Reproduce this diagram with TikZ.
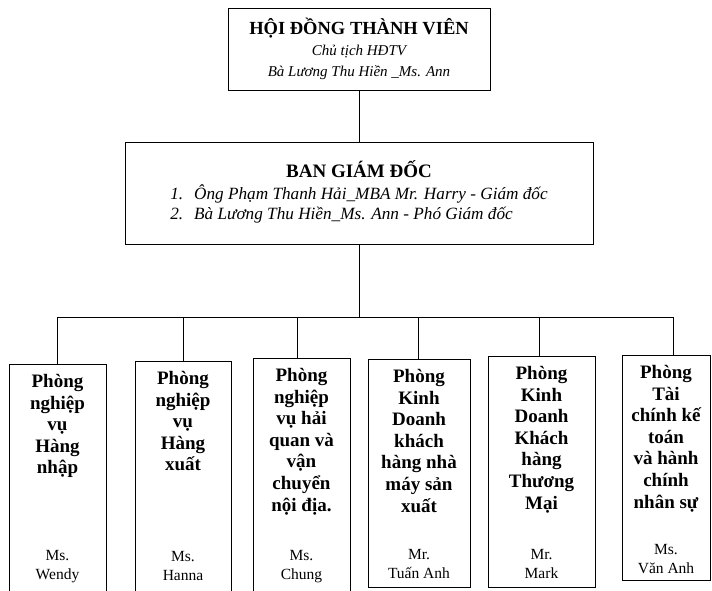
\documentclass[tikz,border=0pt]{standalone}
\usepackage{fontspec}
\setmainfont{Liberation Serif}
\usetikzlibrary{positioning}

\tikzset{
  box/.style={draw, line width=1pt, inner sep=0pt},
  dept/.style={box, minimum width=98pt, anchor=north},
  depttext/.style={align=center, inner sep=0pt, font=\fontsize{19}{21.6}\selectfont\bfseries},
  deptname/.style={align=center, inner sep=0pt, font=\fontsize{15.5}{19}\selectfont},
  link/.style={line width=0.9pt}
}

\begin{document}
\begin{tikzpicture}[x=1pt,y=-1pt]
  \useasboundingbox (0,0) rectangle (712,590);
  % board
  \node[box, minimum width=262pt, minimum height=82pt, align=center,
        font=\fontsize{15}{21}\selectfont] (hdtv) at (359,49)
    {{\fontsize{18.5}{21}\selectfont\bfseries HỘI ĐỒNG THÀNH VIÊN}\\
     {\itshape Chủ tịch HĐTV}\\
     {\itshape Bà Lương Thu Hiền \_Ms. Ann}};
  % directors
  \node[box, minimum width=468pt, minimum height=102pt,
        font=\fontsize{17.2}{19.5}\selectfont] (bgd) at (359,193)
    {\begin{tabular}{@{}l@{\hspace{11pt}}l@{}}
       \multicolumn{2}{c}{\fontsize{19}{21}\selectfont\bfseries BAN GIÁM ĐỐC}\\[1pt]
       \itshape 1. & \itshape Ông Phạm Thanh Hải\_MBA Mr. Harry - Giám đốc\\
       \itshape 2. & \itshape Bà Lương Thu Hiền\_Ms. Ann - Phó Giám đốc
     \end{tabular}};
  \draw[link] (hdtv.south) -- (bgd.north);

  % departments
  \node[dept, minimum width=97pt, minimum height=228pt] (d1) at (57.5,364) {};
  \node[dept, minimum width=96pt, minimum height=231pt] (d2) at (183,361) {};
  \node[dept, minimum width=97pt, minimum height=234pt] (d3) at (301.5,358) {};
  \node[dept, minimum width=102pt, minimum height=228pt] (d4) at (419,359) {};
  \node[dept, minimum width=107pt, minimum height=231pt] (d5) at (541.5,356) {};
  \node[dept, minimum width=88pt, minimum height=225pt] (d6) at (666,355) {};

  \node[depttext, below=10pt of d1.north] (d1t) {Phòng\\nghiệp\\vụ\\Hàng\\nhập};
  \node[depttext, below=10pt of d2.north] (d2t) {Phòng\\nghiệp\\vụ\\Hàng\\xuất};
  \node[depttext, below=10pt of d3.north] (d3t) {Phòng\\nghiệp\\vụ hải\\quan và\\vận\\chuyển\\nội địa.};
  \node[depttext, below=10pt of d4.north] (d4t) {Phòng\\Kinh\\Doanh\\khách\\hàng nhà\\máy sản\\xuất};
  \node[depttext, below=10pt of d5.north] (d5t) {Phòng\\Kinh\\Doanh\\Khách\\hàng\\Thương\\Mại};
  \node[depttext, below=10pt of d6.north] (d6t) {Phòng\\Tài\\chính kế\\toán\\và hành\\chính\\nhân sự};

  \node[deptname, above=10pt of d1.south] (d1n) {Ms.\\Wendy};
  \node[deptname, above=12pt of d2.south] (d2n) {Ms.\\Hanna};
  \node[deptname, above=10pt of d3.south] (d3n) {Ms.\\Chung};
  \node[deptname, above=9pt of d4.south] (d4n) {Mr.\\Tuấn Anh};
  \node[deptname, above=9pt of d5.south] (d5n) {Mr.\\Mark};
  \node[deptname, above=7pt of d6.south] (d6n) {Ms.\\Văn Anh};

  % bus
  \coordinate (bus) at (359,317);
  \coordinate (b1) at (57,317);
  \coordinate (b2) at (183,317);
  \coordinate (b3) at (297,317);
  \coordinate (b4) at (418,317);
  \coordinate (b5) at (539,317);
  \coordinate (b6) at (673,317);
  \draw[link] (bgd.south) -- (bus);
  \draw[link] (b1) -- (b6);
  \foreach \i in {1,...,6}
    \draw[link] (b\i) -- (b\i |- d\i.north);
\end{tikzpicture}
\end{document}
